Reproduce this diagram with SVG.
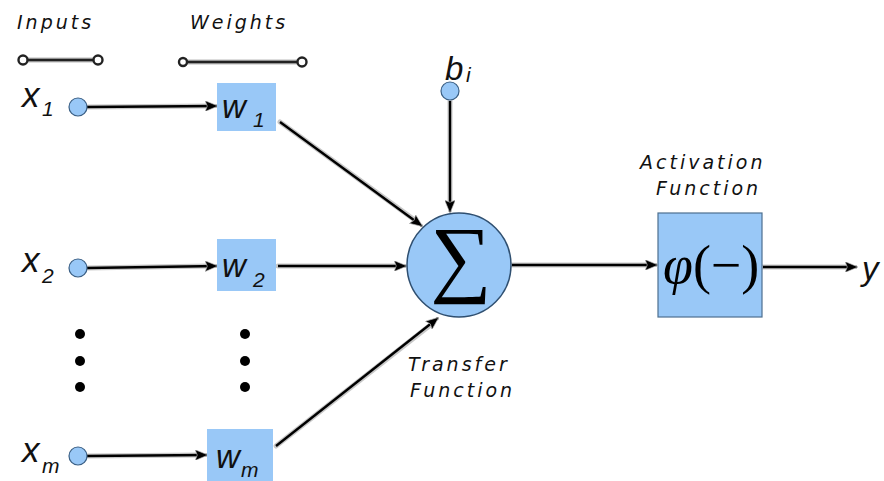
<svg xmlns="http://www.w3.org/2000/svg" width="884" height="481" viewBox="0 0 884 481">
<defs>
<marker id="ah" viewBox="0 0 12 10" refX="11" refY="5" markerWidth="5.5" markerHeight="4.5" orient="auto" markerUnits="strokeWidth">
<path d="M0,0 L12,5 L0,10 L2,5 Z" fill="#000" stroke="#bbb" stroke-width="0.6"/>
</marker>
<style>
.cap{font-family:"DejaVu Sans",sans-serif;font-style:italic;font-size:19px;letter-spacing:3px;fill:#111}
.lab{font-family:"Liberation Sans",Arial,sans-serif;font-style:italic;font-size:35px;fill:#111}
.sub{font-family:"Liberation Sans",Arial,sans-serif;font-style:italic;font-size:21px;fill:#111}
.wl{font-family:"Liberation Sans",Arial,sans-serif;font-style:italic;font-size:33px;fill:#111}
.box{fill:#99c8f7}
.node{fill:#99c8f7;stroke:#3a5f85;stroke-width:1.2}
.halo{stroke:#c8c8c8;stroke-width:5;fill:none;stroke-linecap:round}
.ln{stroke:#000;stroke-width:2.4;fill:none;marker-end:url(#ah)}
.dot{fill:#000}
.lg{stroke:#222;stroke-width:2.4}
.lgh{stroke:#bbb;stroke-width:5}
.ring{fill:#fff;stroke:#222;stroke-width:2.4}
</style>
</defs>
<rect width="884" height="481" fill="#fff"/>

<text class="cap" x="17" y="29">Inputs</text>
<text class="cap" x="190" y="29">Weights</text>

<g id="legend-inputs">
<line class="lgh" x1="25" y1="60" x2="96" y2="60"/>
<line class="lg" x1="25" y1="60" x2="96" y2="60"/>
<circle class="ring" cx="23" cy="60" r="4.5"/>
<circle class="ring" cx="98" cy="60" r="4.5"/>
</g>
<g id="legend-weights">
<line class="lgh" x1="186" y1="62" x2="299" y2="62"/>
<line class="lg" x1="186" y1="62" x2="299" y2="62"/>
<circle class="ring" cx="183" cy="62" r="4"/>
<circle class="ring" cx="302" cy="62" r="4.5"/>
</g>

<g id="connectors">
<line class="halo" x1="87" y1="107" x2="210" y2="106"/>
<line class="ln" x1="87" y1="107" x2="217" y2="106"/>
<line class="halo" x1="87" y1="268" x2="210" y2="266"/>
<line class="ln" x1="87" y1="268" x2="217" y2="266"/>
<line class="halo" x1="87" y1="456" x2="200" y2="455"/>
<line class="ln" x1="87" y1="456" x2="207" y2="455"/>
<line class="halo" x1="280" y1="122" x2="416" y2="221"/>
<line class="ln" x1="280" y1="122" x2="422" y2="226"/>
<line class="halo" x1="278" y1="266" x2="399" y2="266"/>
<line class="ln" x1="278" y1="266" x2="406" y2="266"/>
<line class="halo" x1="276" y1="446" x2="433" y2="323"/>
<line class="ln" x1="276" y1="446" x2="438" y2="318"/>
<line class="halo" x1="450" y1="101" x2="450" y2="205"/>
<line class="ln" x1="450" y1="101" x2="450" y2="212"/>
<line class="halo" x1="512" y1="265" x2="650" y2="265"/>
<line class="ln" x1="512" y1="265" x2="657" y2="265"/>
<line class="halo" x1="763" y1="267" x2="850" y2="267"/>
<line class="ln" x1="763" y1="267" x2="857" y2="267"/>
</g>

<g id="x1">
<text class="lab" x="22" y="107">x</text><text class="sub" x="42" y="116">1</text>
<circle class="node" cx="78" cy="107" r="9"/>
</g>
<g id="x2">
<text class="lab" x="22" y="272">x</text><text class="sub" x="42" y="283">2</text>
<circle class="node" cx="78" cy="268" r="9"/>
</g>
<g id="xm">
<text class="lab" x="22" y="462">x</text><text class="sub" x="42" y="473">m</text>
<circle class="node" cx="78" cy="456" r="9"/>
</g>

<g id="dots-inputs">
<circle class="dot" cx="80" cy="334" r="5"/>
<circle class="dot" cx="80" cy="361" r="5"/>
<circle class="dot" cx="80" cy="387" r="5"/>
</g>
<g id="dots-weights">
<circle class="dot" cx="245" cy="334" r="5"/>
<circle class="dot" cx="245" cy="361" r="5"/>
<circle class="dot" cx="245" cy="387" r="5"/>
</g>

<g id="w1">
<rect class="box" x="217" y="83" width="59" height="48"/>
<text class="wl" x="222" y="118">w</text><text class="sub" x="253" y="127">1</text>
</g>
<g id="w2">
<rect class="box" x="217" y="239" width="59" height="52"/>
<text class="wl" x="222" y="277">w</text><text class="sub" x="253" y="287">2</text>
</g>
<g id="wm">
<rect class="box" x="207" y="429" width="66" height="52"/>
<text class="wl" x="216" y="468">w</text><text class="sub" x="241" y="477">m</text>
</g>

<g id="bias">
<text class="wl" x="445" y="80" font-size="31">b</text><text class="sub" x="466" y="82" font-size="17">i</text>
<circle class="node" cx="450" cy="91" r="9"/>
</g>

<g id="sum">
<circle cx="459" cy="265" r="52" fill="#99c8f7" stroke="#2f4f70" stroke-width="1.5"/>
<text x="461" y="286" text-anchor="middle" font-family="Liberation Serif,serif" font-size="86" fill="#000">∑</text>
</g>
<text class="cap" x="408" y="371">Transfer</text>
<text class="cap" x="410" y="397">Function</text>

<g id="activation">
<rect x="658" y="213" width="104" height="104" fill="#99c8f7" stroke="#4d6f8f" stroke-width="1.2"/>
<text x="663" y="283" font-family="Liberation Serif,serif" font-size="54" fill="#000"><tspan font-style="italic">φ</tspan>(−)</text>
</g>
<text class="cap" x="640" y="169">Activation</text>
<text class="cap" x="656" y="195">Function</text>

<g id="y">
<text class="wl" x="862" y="280" font-size="36">y</text>
</g>
</svg>
